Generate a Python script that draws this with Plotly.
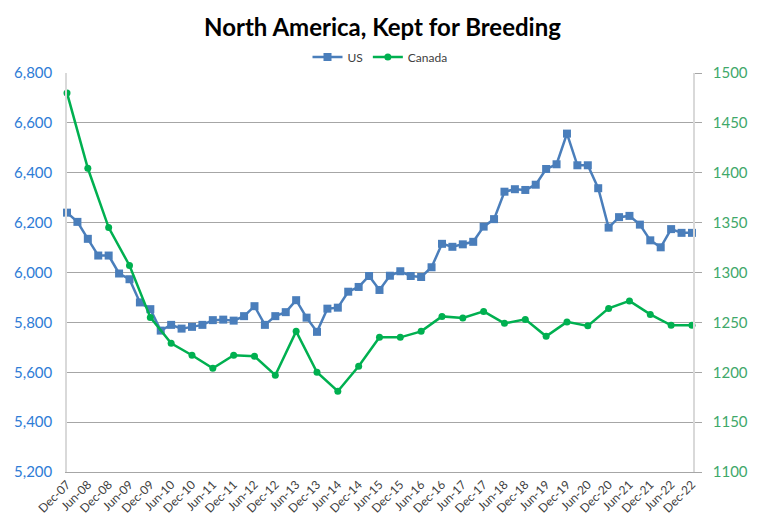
import plotly.graph_objects as go

# Quarterly categories Dec-07 .. Dec-22
quarters = ["Dec-07"]
for y in range(8, 23):
    for m in ["Mar", "Jun", "Sep", "Dec"]:
        quarters.append(f"{m}-{y:02d}")

tick_labels = [q for q in quarters if q.startswith("Dec") or q.startswith("Jun")]

us_values = [6240, 6203, 6135, 6068, 6068, 5996, 5973, 5880, 5853, 5767,
             5790, 5775, 5782, 5790, 5809, 5811, 5807, 5825, 5865, 5790,
             5825, 5841, 5889, 5819, 5762, 5855, 5859, 5923, 5942, 5986,
             5930, 5987, 6005, 5986, 5982, 6021, 6115, 6103, 6113, 6123,
             6184, 6214, 6324, 6334, 6331, 6352, 6415, 6434, 6557, 6430,
             6430, 6338, 6180, 6222, 6227, 6192, 6129, 6101, 6174, 6159,
             6159]

canada_dates = tick_labels
canada_values = [1480, 1404.5, 1345, 1307, 1255, 1229, 1217, 1204, 1217, 1216,
                 1197, 1241, 1200, 1181, 1206, 1235, 1235, 1241, 1256, 1254.5,
                 1261, 1249, 1253, 1236, 1250.5, 1246.5, 1264, 1271.5, 1258,
                 1247, 1247]

FONT = "Lato, Calibri, Open Sans, sans-serif"

fig = go.Figure()
fig.add_trace(go.Scatter(
    x=quarters, y=us_values, name="US", mode="lines+markers",
    line=dict(color="#4A7EBB", width=2.5),
    marker=dict(symbol="square", size=8, color="#4A7EBB"),
    cliponaxis=False))
fig.add_trace(go.Scatter(
    x=canada_dates, y=canada_values, name="Canada", mode="lines+markers",
    line=dict(color="#00B050", width=2.5),
    marker=dict(symbol="circle", size=7, color="#00B050"),
    yaxis="y2", cliponaxis=False))

# page body has an 8px margin, so the figure is sized/offset to compensate
fig.update_layout(
    width=749, height=514,
    paper_bgcolor="white", plot_bgcolor="white",
    margin=dict(l=59, r=64, t=65, b=50, autoexpand=False),
    font=dict(family=FONT, color="#404040"),
    title=dict(text="<b>North America, Kept for Breeding</b>", x=0.5, xanchor="center",
               y=0.962, yanchor="middle", font=dict(size=24, color="#000000", family=FONT)),
    showlegend=True,
    legend=dict(orientation="h", x=0.5, xanchor="center", y=1.04, yanchor="middle",
                font=dict(size=12, color="#404040"), bgcolor="rgba(0,0,0,0)",
                itemwidth=30, tracegroupgap=0),
    xaxis=dict(type="category", categoryorder="array", categoryarray=quarters,
               tickmode="array", tickvals=tick_labels, ticktext=tick_labels,
               tickangle=-45, tickfont=dict(size=12, color="#404040"),
               range=[0, 60.1], showgrid=False, showline=True, linecolor="#A6A6A6",
               linewidth=1, ticks="", zeroline=False, automargin=False),
    yaxis=dict(range=[5200, 6800], dtick=200, tickformat=",d",
               tickfont=dict(size=15, color="#2E7CD6"), showgrid=True,
               gridcolor="#A6A6A6", gridwidth=1, showline=True, linecolor="#D9D9D9",
               linewidth=1.5, ticks="", ticklabelstandoff=10, zeroline=False,
               automargin=False),
    yaxis2=dict(range=[1100, 1500], dtick=50, overlaying="y", side="right",
                tickfont=dict(size=15, color="#3FA86A"), showgrid=False,
                showline=True, linecolor="#D9D9D9", linewidth=1.5,
                ticks="outside", ticklen=7, tickcolor="#A6A6A6",
                ticklabelstandoff=8, zeroline=False, automargin=False),
)

fig.write_html("out.html")
